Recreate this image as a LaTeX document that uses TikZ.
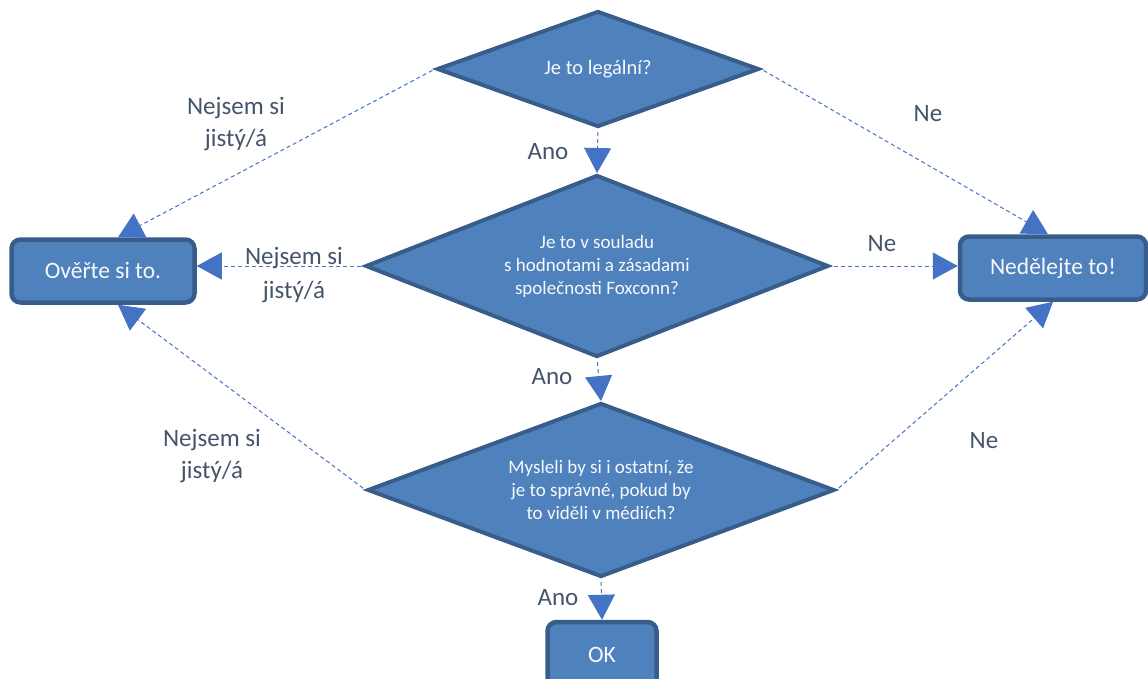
\documentclass[tikz,border=0pt]{standalone}
\usepackage{fontspec}
\setmainfont{Carlito}
\usetikzlibrary{shapes.geometric, arrows.meta}
\definecolor{boxfill}{HTML}{4F81BD}
\definecolor{boxline}{HTML}{385D8A}
\definecolor{linkblue}{HTML}{4472C4}
\definecolor{labelgray}{HTML}{44546A}

\begin{document}
\begin{tikzpicture}[x=1pt,y=-1pt,
  question/.style={draw=boxline,fill=boxfill,line width=4pt,shape=diamond,inner sep=0pt,align=center,text=white!95!boxfill,font=\fontsize{19}{23}\selectfont},
  answer/.style={draw=boxline,fill=boxfill,line width=4.5pt,rounded corners=9pt,inner sep=0pt,text=white!95!boxfill,font=\fontsize{23.5}{28}\selectfont},
  link/.style={draw=linkblue,line width=1pt,dash pattern=on 4pt off 3pt,shorten <=3pt,-{Triangle[length=25pt,width=27pt]}},
  tag/.style={text=labelgray,align=center,font=\fontsize{25}{32}\selectfont}]
  \clip (0,0) rectangle (1148,679);
  \path (598,69) node[question,minimum width=322pt,minimum height=116pt,aspect=2.8,font=\fontsize{20.5}{23}\selectfont] (legal) {Je to legální?}
  (597,266) node[question,minimum width=463pt,minimum height=182pt,aspect=2.55] (values) {Je to v souladu\\s hodnotami a zásadami\\společnosti Foxconn?}
  (601,490) node[question,minimum width=467pt,minimum height=174pt,aspect=2.7] (media) {Mysleli by si i ostatní, že\\je to správné, pokud by\\to viděli v médiích?};
  \path (103,271) node[answer,minimum width=183pt,minimum height=63pt] (check) {Ověřte si to.}
  (1053,268) node[answer,minimum width=186pt,minimum height=63pt] (stop) {Nedělejte to!}
  (602,655) node[answer,minimum width=109pt,minimum height=66pt] (ok) {OK};
  % connectors
  \draw[link] (legal.west) -- ([xshift=15pt]check.north);
  \draw[link] (legal.east) -- ([xshift=-5pt]stop.north);
  \draw[link] (legal.south) -- (values.north);
  \draw[link] (values.west) -- (values.west -| check.east);
  \draw[link] (values.east) -- (values.east -| stop.west);
  \draw[link] (values.south) -- (media.north);
  \draw[link] (media.west) -- ([xshift=15pt]check.south);
  \draw[link] (media.east) -- (stop.south);
  \draw[link] (media.south) -- (ok.north);
  % labels
  \node[tag] (l1) at (236,124) {Nejsem si\\jistý/á};
  \node[tag] (l2) at (928,114) {Ne};
  \node[tag] (l3) at (548,152) {Ano};
  \node[tag,font=\fontsize{25}{34}\selectfont] (l4) at (294,275) {Nejsem si\\jistý/á};
  \node[tag] (l5) at (882,244) {Ne};
  \node[tag] (l6) at (552,377) {Ano};
  \node[tag] (l7) at (212,456) {Nejsem si\\jistý/á};
  \node[tag] (l8) at (984,441) {Ne};
  \node[tag] (l9) at (558,598) {Ano};
\end{tikzpicture}
\end{document}
